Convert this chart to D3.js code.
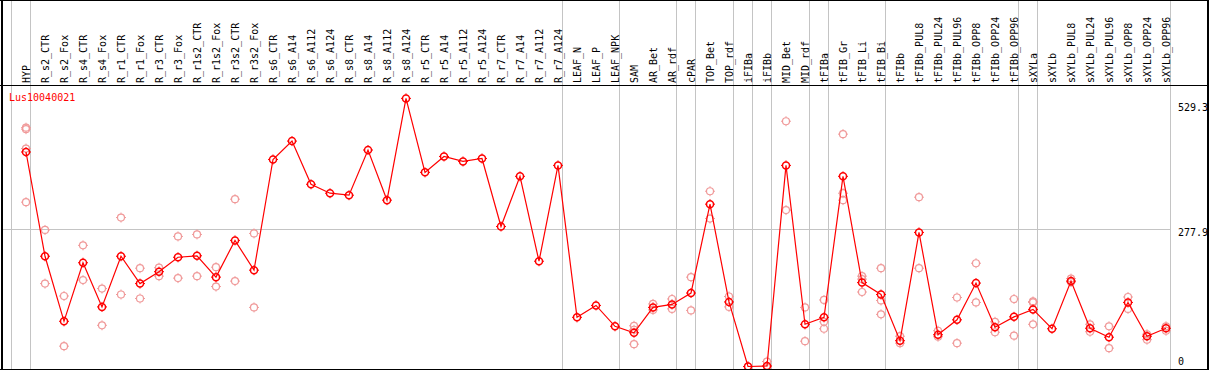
<!DOCTYPE html>
<html>
<head>
<meta charset="utf-8">
<script src="https://d3js.org/d3.v7.min.js"></script>
<style>
  body { margin: 0; background: #fff; }
  text { font-family: "DejaVu Sans Mono", monospace; font-size: 10px; }
</style>
</head>
<body>
<div id="chart"></div>
<script>
// sample names across the top
var categories = ["HYP","R_s2_CTR","R_s2_Fox","R_s4_CTR","R_s4_Fox","R_r1_CTR","R_r1_Fox",
  "R_r3_CTR","R_r3_Fox","R_r1s2_CTR","R_r1s2_Fox","R_r3s2_CTR","R_r3s2_Fox",
  "R_s6_CTR","R_s6_A14","R_s6_A112","R_s6_A124","R_s8_CTR","R_s8_A14","R_s8_A112","R_s8_A124",
  "R_r5_CTR","R_r5_A14","R_r5_A112","R_r5_A124","R_r7_CTR","R_r7_A14","R_r7_A112","R_r7_A124",
  "LEAF_N","LEAF_P","LEAF_NPK","SAM","AR_Bet","AR_rdf","cPAR","TOP_Bet","TOP_rdf",
  "iFIBa","iFIBb","MID_Bet","MID_rdf","tFIBa","tFIB_Gr","tFIB_Li","tFIB_Bi","tFIBb",
  "tFIBb_PUL8","tFIBb_PUL24","tFIBb_PUL96","tFIBb_OPP8","tFIBb_OPP24","tFIBb_OPP96",
  "sXYLa","sXYLb","sXYLb_PUL8","sXYLb_PUL24","sXYLb_PUL96","sXYLb_OPP8","sXYLb_OPP24","sXYLb_OPP96"];

// mean expression per sample
var means = [432,222,91,209,120,222,167,191,220,223,180,254,194,
  417,454,367,349,345,436,335,540,391,423,413,419,282,383,212,405,
  99,123,81,68,119,125,148,327,130,0,1,405,85,99,383,169,145,52,
  270,64,94,168,79,100,115,76,172,77,59,129,61,77];

// individual replicates per sample
var replicates = [[481,478,439,331],[275,167],[142,41],[244,174],[157,83],[300,145],[198,137],
  [199,182],[262,178],[266,182],[200,161],[337,172],[268,119],
  [],[],[],[],[],[],[],[],[],[],[],[],[],[],[],[],
  [],[],[],[82,74,45],[126,114],[136,116],[180,113],[353,298],[141,120],
  [0],[10,0],[494,315],[119,51],[134,90,76],[468,349,335],[182,176,150],[198,133,105],[61,47],
  [341,198],[72,60],[139,47],[208,129],[90,69],[136,62],
  [131,129,85],[],[177,170],[85,70],[81,37],[140,116],[65,54],[81,72]];

// samples followed by a separator line
var groupEnds = ["HYP","R_r7_A124","LEAF_NPK","AR_rdf","cPAR","TOP_rdf","iFIBa","iFIBb",
  "MID_rdf","tFIBa","tFIB_Bi","tFIBb_OPP96","sXYLa","sXYLb_OPP96"];

var yTicks = [0, 277.9, 529.3];
var gridValues = [277.9];
var geneName = "Lus10040021";

var W = 1209, H = 370;
var headerBottom = 85.5;

var svg = d3.select("#chart").append("svg")
  .attr("width", W).attr("height", H);

var x = d3.scalePoint().domain(categories).range([26, 1166]);
var y = d3.scaleLinear().domain([0, 529.3]).range([366.5, 103.7]);

// vertical separators (one before the first column too)
var sepX = [x(categories[0]) - 19 + 4.5].concat(groupEnds.map(function(c) { return x(c) + 4.5; }));
svg.append("g").selectAll("line").data(sepX).enter().append("line")
  .attr("x1", function(d) { return d; }).attr("x2", function(d) { return d; })
  .attr("y1", 0).attr("y2", 369)
  .attr("stroke", "#c4c4c4").attr("stroke-width", 1)
  .attr("shape-rendering", "crispEdges");

// horizontal grid
svg.append("g").selectAll("line").data(gridValues).enter().append("line")
  .attr("x1", 1).attr("x2", 1170.5)
  .attr("y1", function(d) { return Math.round(y(d)) + 0.5; })
  .attr("y2", function(d) { return Math.round(y(d)) + 0.5; })
  .attr("stroke", "#c4c4c4").attr("shape-rendering", "crispEdges");

// header labels
svg.append("g").selectAll("text").data(categories).enter().append("text")
  .attr("transform", function(d) { return "translate(" + (x(d) + 4) + ",83) rotate(-90)"; })
  .attr("fill", "#000")
  .text(function(d) { return d; });

// right axis labels
svg.append("g").selectAll("text").data(yTicks).enter().append("text")
  .attr("x", 1178)
  .attr("y", function(d) { return Math.min(y(d) + 7.5, 365); })
  .attr("fill", "#000")
  .text(function(d) { return d; });

// gene name
svg.append("text").attr("x", 9).attr("y", 101).attr("fill", "red").text(geneName);

function marker(g, cx, cy, color, sw) {
  var r = 3.5;
  g.append("circle").attr("cx", cx).attr("cy", cy).attr("r", r)
    .attr("fill", "none").attr("stroke", color).attr("stroke-width", sw);
  g.append("path")
    .attr("d", "M" + cx + "," + (cy - r - 1.5) + "v1.5M" + cx + "," + (cy + r) + "v1.5" +
               "M" + (cx - r - 1.5) + "," + cy + "h1.5M" + (cx + r) + "," + cy + "h1.5")
    .attr("stroke", color).attr("stroke-width", 1);
}

// replicates
var repG = svg.append("g");
replicates.forEach(function(reps, i) {
  reps.forEach(function(v) { marker(repG, x(categories[i]), y(v), "#f09a9a", 1.2); });
});

// mean line
var line = d3.line()
  .x(function(d, i) { return x(categories[i]); })
  .y(function(d) { return y(d); });
svg.append("path").datum(means)
  .attr("fill", "none").attr("stroke", "red").attr("stroke-width", 1.2)
  .attr("d", line);

var meanG = svg.append("g");
means.forEach(function(v, i) { marker(meanG, x(categories[i]), y(v), "red", 1.5); });

// frame
var frame = svg.append("g").attr("stroke", "#000").attr("shape-rendering", "crispEdges");
frame.append("line").attr("x1", 0).attr("x2", W).attr("y1", 0.5).attr("y2", 0.5);
frame.append("line").attr("x1", 0).attr("x2", W).attr("y1", headerBottom).attr("y2", headerBottom);
frame.append("line").attr("x1", 0).attr("x2", W).attr("y1", 369.5).attr("y2", 369.5);
frame.append("line").attr("x1", 1.5).attr("x2", 1.5).attr("y1", 0).attr("y2", H).attr("stroke-width", 2);
frame.append("line").attr("x1", 1207.5).attr("x2", 1207.5).attr("y1", 0).attr("y2", H).attr("stroke-width", 2);
</script>
</body>
</html>
